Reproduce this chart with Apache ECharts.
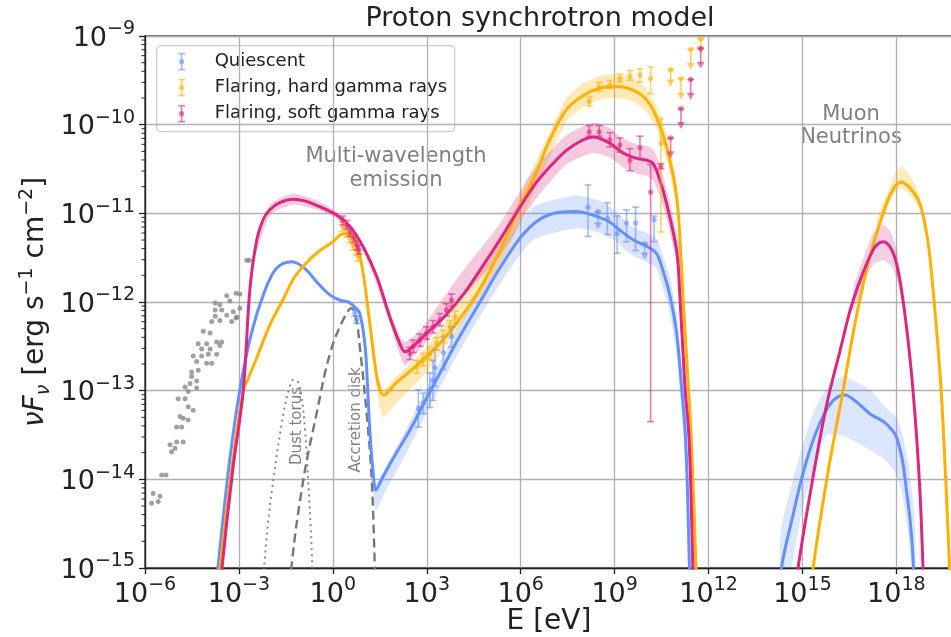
<!DOCTYPE html>
<html><head><meta charset="utf-8">
<script src="https://cdn.jsdelivr.net/npm/echarts@6/dist/echarts.min.js"></script>
<style>html,body{margin:0;padding:0;background:#fff}#c{width:951px;height:637px}</style>
</head><body><div id="c"></div><script>
// All values are given as log10: [log10 E (eV), log10 nuFnu (erg s^-1 cm^-2), ...]
const xTickExp = [-6,-3,0,3,6,9,12,15,18];
const yTickExp = [-15,-14,-13,-12,-11,-10,-9];
const yMinorFactors = [2,3,4,5,6,7,8,9];

const quiescentCurve = [[-3.75,-15.4],[-3.67,-15.0],[-3.3,-13.8],[-2.97,-12.99],[-2.6,-12.35],[-2.2,-11.9],[-1.8,-11.62],[-1.3,-11.545],[-0.9,-11.62],[-0.5,-11.78],[-0.1,-11.92],[0.23,-11.98],[0.49,-12.0],[0.65,-12.04],[0.86,-12.13],[1.03,-12.5],[1.10,-12.88],[1.18,-13.44],[1.29,-13.93],[1.375,-14.12],[1.6,-13.97],[2.0,-13.72],[2.5,-13.42],[3.0,-13.08],[3.5,-12.75],[4.0,-12.42],[4.7,-12.0],[5.33,-11.62],[6.0,-11.27],[6.6,-11.07],[7.2,-10.99],[7.78,-10.98],[8.3,-11.02],[8.8,-11.09],[9.2,-11.2],[9.6,-11.3],[10.02,-11.37],[10.33,-11.45],[10.52,-11.62],[10.76,-11.92],[10.98,-12.35],[11.13,-12.92],[11.27,-13.56],[11.39,-15.0],[11.42,-15.5]];
const hardCurve = [[-3.68,-15.4],[-3.6,-15.0],[-3.2,-13.8],[-2.86,-13.0],[-2.7,-12.86],[-2.4,-12.6],[-2.0,-12.25],[-1.6,-11.98],[-1.26,-11.74],[-0.9,-11.58],[-0.52,-11.45],[0.0,-11.32],[0.33,-11.23],[0.55,-11.24],[0.76,-11.34],[0.97,-11.68],[1.18,-12.24],[1.40,-12.84],[1.52,-13.0],[1.61,-13.05],[2.0,-12.92],[2.57,-12.75],[3.1,-12.58],[3.63,-12.38],[4.2,-12.12],[4.7,-11.85],[5.33,-11.43],[6.0,-10.9],[6.4,-10.62],[6.93,-10.17],[7.46,-9.83],[8.0,-9.67],[8.53,-9.59],[9.06,-9.57],[9.59,-9.61],[10.02,-9.72],[10.33,-9.91],[10.66,-10.25],[10.98,-10.81],[11.13,-11.56],[11.19,-11.98],[11.35,-12.92],[11.45,-13.56],[11.6,-15.0],[11.63,-15.5]];
const softCurve = [[-3.62,-15.4],[-3.54,-15.0],[-3.2,-13.9],[-2.86,-12.99],[-2.65,-11.86],[-2.43,-11.30],[-2.2,-11.05],[-2.01,-10.96],[-1.7,-10.88],[-1.26,-10.84],[-0.9,-10.86],[-0.52,-10.91],[0.12,-11.02],[0.55,-11.15],[0.97,-11.38],[1.40,-11.71],[1.82,-12.17],[2.14,-12.47],[2.30,-12.56],[2.5,-12.52],[3.0,-12.35],[3.63,-12.14],[4.2,-11.9],[4.70,-11.64],[5.33,-11.30],[6.40,-10.70],[7.0,-10.45],[7.46,-10.29],[8.0,-10.17],[8.31,-10.14],[8.85,-10.21],[9.27,-10.32],[9.70,-10.38],[10.02,-10.40],[10.23,-10.44],[10.44,-10.62],[10.66,-10.89],[10.98,-11.42],[11.08,-11.9],[11.24,-12.92],[11.38,-13.56],[11.5,-15.0],[11.53,-15.5]];

const quiescentNu = [[14.25,-15.5],[14.33,-15.0],[14.7,-14.4],[15.02,-13.93],[15.4,-13.5],[15.76,-13.22],[16.05,-13.09],[16.35,-13.05],[16.7,-13.12],[17.15,-13.26],[17.4,-13.31],[17.63,-13.36],[17.85,-13.44],[18.0,-13.52],[18.2,-13.8],[18.32,-14.12],[18.45,-14.5],[18.55,-15.0],[18.58,-15.5]];
const hardNu = [[15.2,-15.5],[15.34,-15.0],[15.8,-13.95],[16.30,-12.99],[16.7,-12.2],[17.15,-11.49],[17.68,-10.89],[17.95,-10.7],[18.16,-10.65],[18.45,-10.72],[18.75,-10.89],[19.0,-11.3],[19.17,-11.86],[19.35,-12.6],[19.49,-13.37],[19.70,-15.0],[19.75,-15.5]];
const softNu = [[14.72,-15.5],[14.86,-15.0],[15.3,-14.05],[15.76,-13.18],[16.2,-12.55],[16.62,-11.98],[17.26,-11.41],[17.57,-11.32],[17.8,-11.38],[18.0,-11.56],[18.2,-11.95],[18.43,-12.62],[18.6,-13.3],[18.75,-14.12],[18.85,-15.0],[18.88,-15.5]];

// uncertainty bands: [log10 E, log10 low, log10 high]
const quiescentBand = [[1.25,-13.95,-13.7],[1.375,-14.35,-14.05],[1.7,-14.12,-13.85],[2.36,-13.7,-13.42],[3.0,-13.25,-12.97],[4.0,-12.58,-12.28],[5.33,-11.8,-11.45],[6.4,-11.3,-10.93],[7.78,-11.17,-10.8],[8.53,-11.22,-10.86],[9.06,-11.32,-10.98],[9.49,-11.46,-11.14],[10.02,-11.55,-11.22],[10.33,-11.62,-11.28],[10.49,-11.78,-11.42],[10.76,-12.12,-11.72],[10.98,-12.6,-12.12],[11.13,-13.2,-12.68],[11.27,-13.9,-13.3],[11.42,-15.5,-14.7]];
const hardBand = [[1.2,-12.35,-12.2],[1.45,-13.1,-12.85],[1.61,-13.3,-13.0],[2.0,-13.15,-12.85],[2.57,-12.95,-12.66],[3.1,-12.75,-12.46],[4.0,-12.3,-12.0],[5.33,-11.6,-11.3],[6.4,-10.78,-10.48],[7.46,-9.97,-9.7],[8.0,-9.8,-9.53],[8.53,-9.72,-9.45],[9.06,-9.7,-9.43],[9.59,-9.74,-9.47],[10.02,-9.86,-9.6],[10.33,-10.05,-9.78],[10.66,-10.4,-10.1],[10.98,-10.95,-10.65],[11.13,-11.7,-11.4],[11.3,-12.7,-12.4]];
const softBand = [[-2.5,-11.5,-11.35],[-2.0,-11.02,-10.9],[-1.26,-10.9,-10.78],[-0.5,-10.96,-10.86],[0.12,-11.06,-10.98],[0.97,-11.42,-11.34],[1.8,-12.22,-12.1],[2.14,-12.6,-12.38],[2.3,-12.72,-12.45],[2.6,-12.6,-12.38],[3.0,-12.45,-12.22],[4.0,-12.0,-11.72],[5.33,-11.48,-11.12],[6.4,-10.88,-10.52],[7.46,-10.45,-10.12],[8.31,-10.32,-9.98],[8.85,-10.37,-10.04],[9.27,-10.48,-10.16],[9.7,-10.55,-10.22],[10.02,-10.58,-10.24],[10.23,-10.63,-10.28],[10.44,-10.8,-10.44],[10.66,-11.06,-10.72],[10.98,-11.55,-11.22],[11.13,-11.9,-11.55],[11.3,-13.0,-12.6]];
const quiescentNuBand = [[14.3,-15.5,-14.6],[14.7,-14.9,-14.0],[15.02,-14.3,-13.6],[15.4,-13.85,-13.2],[15.76,-13.5,-12.98],[16.05,-13.5,-12.87],[16.35,-13.52,-12.84],[16.7,-13.58,-12.9],[17.15,-13.67,-12.99],[17.63,-13.78,-13.18],[18.0,-13.95,-13.3],[18.2,-14.2,-13.5],[18.4,-14.7,-13.85],[18.6,-15.5,-14.5]];
const softNuBand = [[16.62,-12.1,-11.85],[17.0,-11.75,-11.45],[17.26,-11.58,-11.22],[17.57,-11.53,-11.13],[17.8,-11.58,-11.2],[18.0,-11.72,-11.4],[18.2,-12.05,-11.85]];
const hardNuBand = [[17.4,-11.25,-11.05],[17.68,-10.97,-10.8],[17.95,-10.77,-10.55],[18.16,-10.72,-10.47],[18.45,-10.8,-10.58],[18.75,-10.96,-10.8]];

// thermal components
const dustTorus = [[-2.3,-15.5],[-2.1,-14.6],[-1.9,-14.0],[-1.58,-13.26],[-1.4,-12.98],[-1.26,-12.88],[-1.12,-12.9],[-1.0,-13.07],[-0.89,-13.44],[-0.79,-14.0],[-0.68,-14.76],[-0.62,-15.5]];
const accretionDisk = [[-1.4,-15.5],[-1.32,-14.98],[-0.94,-14.0],[-0.52,-13.26],[-0.09,-12.58],[0.33,-12.2],[0.6,-12.07],[0.75,-12.2],[0.86,-12.5],[1.08,-13.26],[1.24,-14.0],[1.34,-14.98],[1.38,-15.5]];

// host / archival data (grey dots)
const archivalDots = [[-2.75,-11.53],[-2.67,-11.53],[-3.09,-11.9],[-2.97,-11.91],[-3.39,-11.93],[-3.76,-12.01],[-3.61,-12.03],[-3.29,-11.99],[-2.97,-12.07],[-3.76,-12.09],[-3.55,-12.09],[-3.18,-12.11],[-3.09,-12.18],[-3.39,-12.15],[-3.76,-12.16],[-3.87,-12.22],[-3.61,-12.21],[-3.23,-12.22],[-3.07,-12.17],[-4.14,-12.33],[-3.92,-12.35],[-4.3,-12.47],[-4.03,-12.47],[-3.71,-12.45],[-3.55,-12.45],[-4.19,-12.53],[-3.92,-12.53],[-3.61,-12.49],[-4.46,-12.61],[-4.19,-12.61],[-3.98,-12.59],[-3.71,-12.59],[-4.35,-12.67],[-4.03,-12.69],[-3.87,-12.69],[-4.51,-12.79],[-4.3,-12.77],[-4.35,-12.89],[-4.56,-12.92],[-4.72,-12.96],[-4.51,-12.84],[-4.62,-13.01],[-4.35,-12.97],[-4.94,-13.09],[-4.72,-13.09],[-4.62,-13.18],[-4.46,-13.22],[-4.78,-13.31],[-4.62,-13.33],[-4.99,-13.41],[-4.83,-13.41],[-4.88,-13.29],[-5.2,-13.61],[-5.15,-13.69],[-5.04,-13.65],[-4.99,-13.58],[-4.78,-13.58],[-5.47,-13.95],[-5.33,-13.95],[-5.79,-14.27],[-5.58,-14.25],[-5.74,-14.16],[-5.52,-14.19]];

// measurements: [log10 E, log10 F, log10 low, log10 high]
const quiescentPts = [[0.70,-12.12,-12.16,-12.08],[0.76,-12.2,-12.24,-12.16],[2.73,-13.2,-13.41,-12.99],[2.89,-13.14,-13.26,-13.03],[3.10,-12.99,-13.19,-12.8],[3.20,-12.88,-13.11,-12.66],[3.26,-12.74,-12.95,-12.54],[3.53,-12.57,-12.76,-12.39],[3.79,-12.39,-12.51,-12.28],[8.15,-10.93,-11.26,-10.68],[8.77,-11.06,-11.24,-10.88],[9.08,-11.23,-11.45,-11.03],[9.38,-11.11,-11.32,-10.96],[9.67,-11.11,-11.42,-10.93],[10.26,-11.07,-11.32,-11.03]];
const hardPts = [[0.32,-11.15,-11.2,-11.1],[0.45,-11.22,-11.27,-11.17],[0.55,-11.28,-11.33,-11.23],[0.64,-11.36,-11.41,-11.31],[0.74,-11.41,-11.47,-11.36],[0.80,-11.48,-11.54,-11.43],[2.68,-12.73,-12.8,-12.66],[2.89,-12.65,-12.72,-12.58],[3.10,-12.58,-12.65,-12.51],[3.31,-12.47,-12.54,-12.4],[3.53,-12.39,-12.46,-12.32],[3.74,-12.28,-12.35,-12.21],[3.90,-12.17,-12.24,-12.1],[8.19,-9.74,-9.79,-9.69],[8.51,-9.57,-9.62,-9.52],[8.85,-9.55,-9.59,-9.5],[9.17,-9.48,-9.52,-9.43],[9.49,-9.45,-9.5,-9.39],[9.81,-9.44,-9.52,-9.37],[10.15,-9.48,-9.65,-9.35],[10.48,-10.21,-11.21,-9.93]];
const softPts = [[0.32,-11.08,-11.13,-11.03],[0.45,-11.13,-11.18,-11.08],[0.55,-11.21,-11.26,-11.16],[0.67,-11.28,-11.33,-11.23],[0.77,-11.36,-11.41,-11.31],[0.83,-11.41,-11.46,-11.36],[2.46,-12.58,-12.65,-12.51],[2.57,-12.5,-12.57,-12.43],[2.78,-12.43,-12.5,-12.36],[2.99,-12.35,-12.42,-12.28],[3.20,-12.28,-12.35,-12.21],[3.42,-12.2,-12.27,-12.13],[3.63,-12.09,-12.16,-12.02],[3.79,-11.98,-12.05,-11.91],[8.19,-10.08,-10.13,-10.01],[8.51,-10.08,-10.13,-10.01],[8.85,-10.17,-10.25,-10.09],[9.17,-10.23,-10.31,-10.15],[9.49,-10.4,-10.52,-10.27],[9.81,-10.26,-10.39,-10.13],[10.15,-10.76,-13.35,-10.45],[10.48,-10.47,-10.5,-10.44]];
// upper limits: [log10 E, log10 F, log10 arrow tip]
const quiescentUL = [[8.47,-10.98,-11.18],[9.96,-11.34,-11.52]];
const hardUL = [[10.79,-9.38,-9.57],[11.12,-9.48,-9.72],[11.43,-9.15,-9.38],[11.75,-9.03,-9.2]];
const softUL = [[10.79,-10.15,-10.38],[11.12,-9.82,-10.05],[11.43,-9.49,-9.72],[11.75,-9.14,-9.37]];

const C_Q = '#648FFF', C_H = '#FFB000', C_S = '#DC267F';
const FONT = 'DejaVu Sans';

const pw = a => a.map(p => p.map(v => Math.pow(10, v)));

function lineSeries(name, arr, color, extra) {
  return Object.assign({type:'line', name, data: pw(arr), showSymbol:false, smooth:0.35, silent:true, z:4,
    lineStyle:{color, width:3}, itemStyle:{color}}, extra || {});
}
function bandSeries(arr, color) {
  const d = pw(arr);
  return {type:'custom', data:d, silent:true, z:2,
    renderItem(params, api) {
      if (params.dataIndex !== 0) return;
      const up = d.map(p => api.coord([p[0], p[2]]));
      const lo = d.map(p => api.coord([p[0], p[1]])).reverse();
      const cs = params.coordSys;
      return {type:'group', clipPath:{type:'rect', shape:{x:cs.x, y:cs.y, width:cs.width, height:cs.height}},
        children:[{type:'polygon', shape:{points: up.concat(lo), smooth:0.2}, style:{fill:color}}]};
    }};
}
function errSeries(name, arr, color) {
  return {type:'custom', name, data: pw(arr), silent:true, z:6,
    renderItem(params, api) {
      const p = api.coord([api.value(0), api.value(1)]);
      const lo = api.coord([api.value(0), api.value(2)]);
      const hi = api.coord([api.value(0), api.value(3)]);
      const st = {stroke:color, lineWidth:1.6, opacity:0.6};
      return {type:'group', children:[
        {type:'line', shape:{x1:p[0], y1:lo[1], x2:p[0], y2:hi[1]}, style:st},
        {type:'line', shape:{x1:p[0]-3.5, y1:lo[1], x2:p[0]+3.5, y2:lo[1]}, style:st},
        {type:'line', shape:{x1:p[0]-3.5, y1:hi[1], x2:p[0]+3.5, y2:hi[1]}, style:st},
        {type:'circle', shape:{cx:p[0], cy:p[1], r:2.6}, style:{fill:color, opacity:0.6}}
      ]};
    }};
}
function ulSeries(arr, color) {
  return {type:'custom', data: pw(arr), silent:true, z:6,
    renderItem(params, api) {
      const p = api.coord([api.value(0), api.value(1)]);
      const t = api.coord([api.value(0), api.value(2)]);
      const st = {stroke:color, lineWidth:1.6, opacity:0.6};
      return {type:'group', children:[
        {type:'line', shape:{x1:p[0], y1:p[1], x2:p[0], y2:t[1]-5}, style:st},
        {type:'line', shape:{x1:p[0]-3.5, y1:p[1], x2:p[0]+3.5, y2:p[1]}, style:st},
        {type:'polygon', shape:{points:[[p[0]-4, t[1]-7],[p[0]+4, t[1]-7],[p[0], t[1]]]}, style:{fill:color, opacity:0.6}},
        {type:'circle', shape:{cx:p[0], cy:p[1], r:2.6}, style:{fill:color, opacity:0.6}}
      ]};
    }};
}
const minorTickData = [];
yTickExp.slice(0, -1).forEach(e => yMinorFactors.forEach(f => minorTickData.push([1e-6, f * Math.pow(10, e)])));

const expLabel = v => {
  const e = Math.round(Math.log10(v));
  if (e > 18) return '';
  return '{b|10}{s|' + (e < 0 ? '\u2212' : '') + Math.abs(e) + '}';
};
const labelRich = {
  b:{fontSize:27, fontFamily:FONT, color:'#222', lineHeight:32, verticalAlign:'bottom'},
  s:{fontSize:19, fontFamily:FONT, color:'#222', lineHeight:20, verticalAlign:'top'}
};

const chart = echarts.init(document.getElementById('c'), null, {renderer:'canvas'});
chart.setOption({
  animation:false,
  backgroundColor:'#fff',
  grid:{left:145, right:-8, top:36, bottom:69, show:true, borderColor:'#222', borderWidth:1.3, outerBoundsMode:'none', containLabel:false},
  xAxis:{type:'log', min:1e-6, max:1e20, interval:3, logBase:10,
    axisLine:{show:true, lineStyle:{color:'#222', width:1.3}},
    axisTick:{show:true, length:6, lineStyle:{color:'#222', width:1.3}},
    axisLabel:{formatter:expLabel, rich:labelRich, margin:8, showMaxLabel:false},
    splitLine:{show:true, lineStyle:{color:'#b0b0b0', width:1.3}},
    minorTick:{show:false}},
  yAxis:{type:'log', min:1e-15, max:1e-9, interval:1, logBase:10,
    axisLine:{show:true, lineStyle:{color:'#222', width:1.3}},
    axisTick:{show:true, length:6, lineStyle:{color:'#222', width:1.3}},
    axisLabel:{formatter:expLabel, rich:labelRich, margin:10},
    splitLine:{show:true, lineStyle:{color:'#b0b0b0', width:1.3}}},
  graphic:[
    {type:'text', x:540, y:19, style:{text:'Proton synchrotron model', fontSize:27, fontFamily:FONT, fill:'#222', align:'center', verticalAlign:'middle'}},
    {type:'text', x:549, y:622, style:{text:'E [eV]', fontSize:28, fontFamily:FONT, fill:'#222', align:'center', verticalAlign:'middle'}},
    {type:'text', x:36, y:302, rotation:Math.PI/2, style:{
      text:'{i|\u03BDF}{sub|\u03BD}{t| [erg s}{sup|\u22121}{t| cm}{sup|\u22122}{t|]}', align:'center', verticalAlign:'middle',
      rich:{i:{fontSize:28, fontFamily:FONT, fontStyle:'italic', fill:'#222', lineHeight:36, verticalAlign:'middle'},
            sub:{fontSize:19, fontFamily:FONT, fontStyle:'italic', fill:'#222', lineHeight:20, verticalAlign:'bottom'},
            t:{fontSize:28, fontFamily:FONT, fill:'#222', lineHeight:36, verticalAlign:'middle'},
            sup:{fontSize:19, fontFamily:FONT, fill:'#222', lineHeight:20, verticalAlign:'top'}}}},
    {type:'text', x:396, y:169, style:{text:'Multi-wavelength\nemission', fontSize:21, fontFamily:FONT, fill:'#808080', align:'center', verticalAlign:'middle', lineHeight:24}},
    {type:'text', x:851, y:126, style:{text:'Muon\nNeutrinos', fontSize:21, fontFamily:FONT, fill:'#808080', align:'center', verticalAlign:'middle', lineHeight:23}},
    {type:'text', x:297, y:426, rotation:Math.PI/2, style:{text:'Dust torus', fontSize:15, fontFamily:FONT, fill:'#808080', align:'center', verticalAlign:'middle'}},
    {type:'text', x:356, y:420, rotation:Math.PI/2, style:{text:'Accretion disk', fontSize:15, fontFamily:FONT, fill:'#808080', align:'center', verticalAlign:'middle'}},
    {type:'group', left:156, top:45, z:100, children:[
      {type:'rect', shape:{x:0, y:0, width:298, height:86, r:4}, style:{fill:'rgba(255,255,255,0.85)', stroke:'#cccccc', lineWidth:1.3}},
      ...[[C_Q,'Quiescent',16],[C_H,'Flaring, hard gamma rays',42],[C_S,'Flaring, soft gamma rays',68]].flatMap(([c,t,y]) => [
        {type:'line', shape:{x1:25, y1:y-8, x2:25, y2:y+8}, style:{stroke:c, lineWidth:1.6, opacity:0.6}},
        {type:'line', shape:{x1:21.5, y1:y-8, x2:28.5, y2:y-8}, style:{stroke:c, lineWidth:1.6, opacity:0.6}},
        {type:'line', shape:{x1:21.5, y1:y+8, x2:28.5, y2:y+8}, style:{stroke:c, lineWidth:1.6, opacity:0.6}},
        {type:'circle', shape:{cx:25, cy:y, r:2.6}, style:{fill:c, opacity:0.6}},
        {type:'text', x:58, y:y, style:{text:t, fontSize:18, fontFamily:FONT, fill:'#222', verticalAlign:'middle'}}
      ])
    ]}
  ],
  series:[
    bandSeries(quiescentBand, 'rgba(100,143,255,0.25)'),
    bandSeries(hardBand, 'rgba(255,176,0,0.28)'),
    bandSeries(softBand, 'rgba(220,38,127,0.25)'),
    bandSeries(quiescentNuBand, 'rgba(100,143,255,0.22)'),
    bandSeries(softNuBand, 'rgba(220,38,127,0.22)'),
    bandSeries(hardNuBand, 'rgba(255,176,0,0.25)'),
    {type:'scatter', name:'archival', data: pw(archivalDots), symbolSize:5, silent:true, z:3, itemStyle:{color:'#8a8a8a'}},
    lineSeries('Dust torus', dustTorus, '#8a8a8a', {lineStyle:{color:'#8a8a8a', width:2, type:[2,4]}, smooth:0.4}),
    lineSeries('Accretion disk', accretionDisk, '#777', {lineStyle:{color:'#777', width:2.4, type:[9,5]}, smooth:0.4}),
    lineSeries('Quiescent model', quiescentCurve, C_Q),
    lineSeries('Hard model', hardCurve, C_H),
    lineSeries('Soft model', softCurve, C_S),
    lineSeries('Quiescent nu', quiescentNu, C_Q),
    lineSeries('Hard nu', hardNu, C_H),
    lineSeries('Soft nu', softNu, C_S),
    errSeries('Quiescent', quiescentPts, C_Q),
    errSeries('Flaring, hard gamma rays', hardPts, C_H),
    errSeries('Flaring, soft gamma rays', softPts, C_S),
    ulSeries(quiescentUL, C_Q), ulSeries(hardUL, C_H), ulSeries(softUL, C_S),
    {type:'custom', data: minorTickData, silent:true, z:5,
      renderItem(params, api) {
        const p = api.coord([api.value(0), api.value(1)]);
        return {type:'line', shape:{x1:p[0]-3.5, y1:p[1], x2:p[0], y2:p[1]}, style:{stroke:'#222', lineWidth:1}};
      }}
  ]
});
</script></body></html>
